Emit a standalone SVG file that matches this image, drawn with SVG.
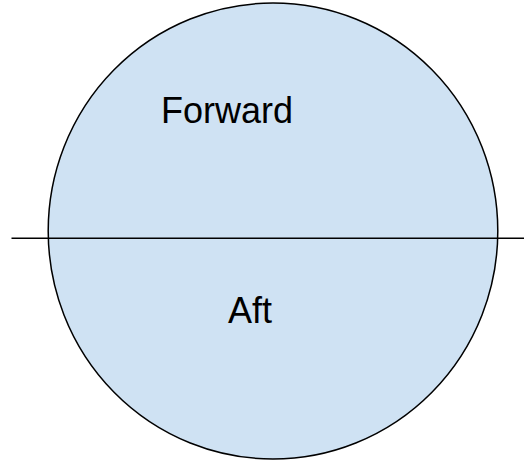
<svg xmlns="http://www.w3.org/2000/svg" width="524" height="461" viewBox="0 0 524 461">
<style>
.lbl{font-family:"Liberation Sans",Arial,sans-serif;font-size:36px;fill:#000}
</style>
<rect width="524" height="461" fill="#fff"/>
<g id="circle">
<ellipse cx="273" cy="231" rx="224.8" ry="228" fill="#cfe2f3" stroke="#000" stroke-width="1.5"/>
</g>
<g id="connectors">
<line x1="11.5" y1="238.3" x2="524" y2="238.3" stroke="#000" stroke-width="1.5"/>
</g>
<g id="forward"><text class="lbl" x="161" y="123.3">Forward</text></g>
<g id="aft"><text class="lbl" x="228" y="322.7">Aft</text></g>
</svg>
